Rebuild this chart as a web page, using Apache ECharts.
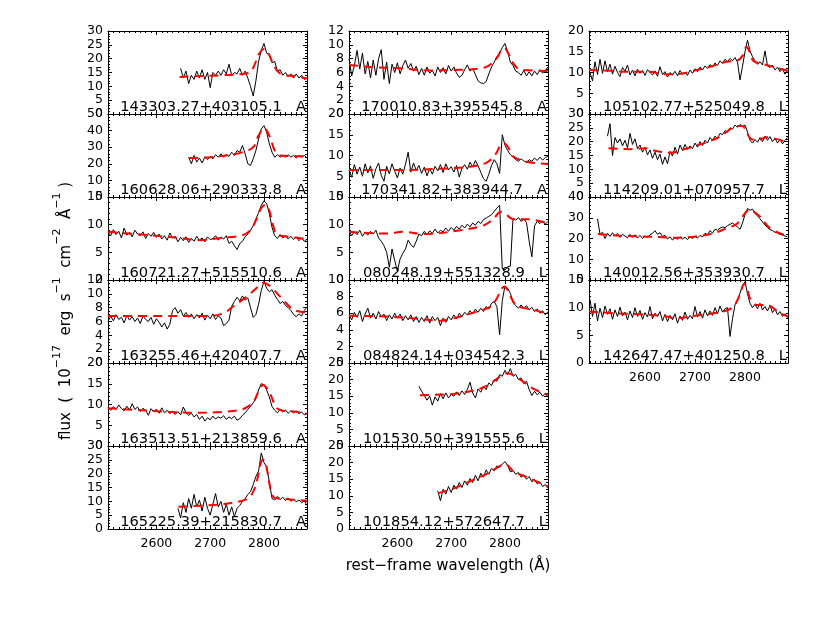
<!DOCTYPE html>
<html><head><meta charset="utf-8">
<script src="https://cdn.jsdelivr.net/npm/echarts@6/dist/echarts.min.js"></script>
<style>html,body{margin:0;padding:0;background:#fff}#c{width:830px;height:623px}</style>
</head><body><div id="c"></div>
<script>
// ---------------- data ----------------
const objectNames = ['143303.27+403105.1','160628.06+290333.8','160721.27+515510.6','163255.46+420407.7','163513.51+213859.6','165225.39+215830.7',
  '170010.83+395545.8','170341.82+383944.7','080248.19+551328.9','084824.14+034542.3','101530.50+391555.6','101854.12+572647.7',
  '105102.77+525049.8','114209.01+070957.7','140012.56+353930.7','142647.47+401250.8'];
const objectTypes = ['A','A','A','A','A','A','A','A','L','L','L','L','L','L','L','L'];
const yMaxes = [30,50,15,12,20,30, 12,20,15,10,25,25, 20,30,40,15];
const ySteps = [5,10,5,2,5,5, 2,5,5,2,5,5, 5,5,10,5];
const xTickLabels = [2600, 2700, 2800];
const waveRangeA = [2510, 2880];
const waveRangeB = [2488, 2886];
const specStarts = [2645,2660,2510,2510,2510,2640, 2510,2510,2510,2510,2640,2675, 2490,2525,2505,2490];
const specStep = 5;

const flux01 = [16.5,13,15.5,11,14,12.5,15.5,13,16,12.5,15,9.5,15,14,15.5,14,16,14.5,18,14,15,14.5,16.5,14,15.5,13,10,6.5,12,19,23,25.5,22,21.5,18.5,19,15.5,16,14,15,13.5,14.5,13,14.5,13,14,12.5,13];
const modelW01 = [2643,2680,2720,2760,2775,2783,2790,2800,2808,2815,2825,2835,2860,2880];
const modelF01 = [13.4,13.7,14.0,14.5,15.2,18,21.5,23.5,22,19,15.5,14.2,13.6,12.8];

const flux02 = [24,20,25,21,23.5,20.5,24,22.5,24.5,23,25.5,24,26,24,25.5,24.5,27,25,28,27,31,26,20,19,23,28,35,41,43,39,32,27,24,25.5,24,25,24,25.5,24,25,23.5,25,24,25,23.5];
const modelW02 = [2661,2700,2740,2765,2780,2790,2800,2810,2820,2830,2880];
const modelF02 = [23.5,24,25.5,27.5,30,37,41.5,37,28,25,24.5];

const flux03 = [8.7,8.0,9.1,8.2,8.8,7.6,9.4,8.1,8.6,7.8,9.0,8.3,8.0,8.7,7.5,8.4,7.9,8.6,7.7,
  8.3,7.4,8.0,7.2,8.5,7.6,7.9,6.9,7.7,7.1,7.8,6.8,7.5,7.0,7.9,7.2,7.6,6.9,7.8,7.3,
  7.5,8.0,7.2,7.8,7.4,8.0,6.6,7.0,
  6.2,5.5,6.6,7.0,7.8,8.3,9.0,9.8,11.0,12.2,13.5,14.3,13.8,12.0,9.5,8.0,7.5,8.2,7.6,8.0,7.4,7.9,7.3,7.8,7.1,7.6,7.0,7.4];
const modelW03 = [2510,2560,2610,2650,2680,2720,2760,2775,2785,2795,2803,2810,2818,2825,2850,2880];
const modelF03 = [8.7,8.3,7.9,7.5,7.2,7.6,8.1,9,10.8,13,13.6,12.5,9.5,8.2,7.8,7.35];

const flux04 = [6.0,6.8,6.1,7.0,6.3,6.6,5.8,6.9,6.2,6.7,6.0,6.5,5.7,6.8,6.3,6.0,6.6,5.6,6.4,5.9,5.2,5.8,4.9,5.6,7.6,8.0,7.2,7.7,6.8,7.3,6.6,7.1,6.4,7.0,6.5,7.2,6.2,6.9,6.4,7.1,6.3,6.8,
  6.5,5.4,5.7,6.2,8.2,8.9,9.5,9.0,9.7,9.1,9.4,8.0,6.6,7.0,8.5,10.5,11.8,10.8,10.3,10.6,9.8,9.2,8.6,8.9,8.3,8.0,7.6,7.0,6.7,7.1,6.8,7.6,8.1];
const modelW04 = [2510,2600,2700,2725,2743,2768,2790,2799,2808,2818,2836,2855,2880];
const modelF04 = [6.8,6.8,6.8,7.2,8.2,9.6,11.1,11.6,11.3,10.6,9.1,7.7,7.3];

const flux05 = [9.3,8.6,9.5,8.8,9.9,9.0,8.5,9.6,8.7,10.2,8.8,9.4,8.3,9.1,8.6,7.4,9.0,8.2,8.9,
  7.9,9.2,8.0,8.6,7.8,8.4,7.6,8.3,7.5,9.4,8.0,7.4,7.9,7.0,7.6,6.4,7.2,6.0,6.8,6.3,
  7.2,6.5,7.0,6.7,7.3,6.4,7.0,6.6,7.2,6.2,6.6,7.4,8.0,8.8,9.6,10.4,11.5,13.5,15.0,14.8,13.5,11.8,9.5,8.6,8.0,8.8,8.2,8.7,7.9,8.5,8.0,8.4,7.8,8.2,7.5,7.8];
const modelW05 = [2510,2560,2600,2670,2720,2756,2770,2781,2790,2799,2806,2812,2818,2824,2835,2855,2880];
const modelF05 = [9.1,8.7,8.4,8.0,8.2,8.7,9.5,10.7,13.2,14.7,13.8,12.5,10.5,9.1,8.5,8.3,7.8];

const flux06 = [7.5,4.0,9.5,6.0,11.0,7.5,12.5,8.0,10.5,6.5,11.5,7.5,5.0,9.0,12.8,8.0,10.0,6.0,9.0,5.0,
  8.0,4.5,7.5,8.5,10.0,11.0,12.5,13.5,16.0,19.0,21.0,27.5,24.0,22.5,17.0,11.0,10.5,11.8,10.6,11.5,
  10.3,11.2,10.0,10.8,9.8,10.5,9.5,10.2,8.5];
const modelW06 = [2641,2680,2720,2750,2770,2780,2787,2795,2800,2806,2812,2818,2830,2880];
const modelF06 = [8.0,8.4,8.9,9.8,11.0,13.5,17.5,24.5,25,21,14.5,11.5,11.0,10.2];

const flux07 = [8.0,5.5,7.0,9.2,6.5,8.8,5.8,7.6,5.2,7.8, 5.6,8.0,9.3,5.0,7.5,4.4,7.2,6.0,7.4,5.8,
  7.0,7.8,6.6,7.3,6.2,6.9,5.7,6.6,5.6,6.8, 5.9,6.3,5.5,6.8,6.0,6.7,5.8,7.0,6.2,6.8,
  5.9,5.3,5.6,6.4,7.1,6.2,6.6,5.7,4.8,4.5, 4.4,4.7,5.8,6.8,7.5,8.3,8.8,9.6,10.2,9.0,
  7.5,7.0,6.2,6.0,5.6,6.3,5.5,6.1,5.5,6.2, 5.7,6.4,5.9,6.3,6.8];
const modelW07 = [2510,2550,2605,2660,2717,2754,2770,2785,2793,2799,2806,2813,2822,2830,2880];
const modelF07 = [7.1,6.8,6.6,6.3,6.4,6.6,7.0,8.1,9.2,9.5,8.8,7.6,6.7,6.4,6.2];

const flux08 = [6.5,4.8,7.8,5.5,7.2,5.0,8.0,5.8,7.5,4.5, 6.8,8.2,5.2,3.8,7.4,5.6,8.0,6.2,4.6,7.0,
  5.5,7.9,10.8,6.0,8.2,6.4,7.6,5.7,7.2,5.1, 6.8,5.5,7.4,6.3,7.8,5.9,8.0,6.5,7.3,6.0,
  7.6,4.8,6.9,7.8,6.7,8.4,7.2,8.8,7.5,6.0, 4.4,3.8,5.5,7.6,9.0,8.0,5.7,15.0,12.5,11.2,
  10.2,9.6,9.0,8.6,9.2,8.7,8.3,9.0,8.6,9.4, 8.8,9.6,8.9,9.5,9.8];
const modelW08 = [2510,2600,2680,2735,2766,2782,2792,2799,2806,2815,2840,2880];
const modelF08 = [6.5,6.5,6.8,7.3,8.3,10.2,12.5,12.9,12.0,9.8,8.5,8.0];

const flux09 = [8.9,8.0,8.7,8.2,9.0,7.9,8.6,8.1,8.8,8.3, 9.0,7.6,7.0,6.2,5.0,2.3,5.6,3.5,1.6,3.8,
  4.8,5.6,7.2,6.4,5.9,7.0,8.3,8.0,8.8,8.2, 8.9,8.4,9.2,8.5,9.0,8.7,9.4,8.8,9.5,9.0,
  9.7,9.2,9.9,9.4,10.1,9.6,10.3,9.9,10.6,10.2, 10.9,11.2,11.5,11.8,12.4,13.0,13.5,2.0,1.8,2.4,
  2.5,11.2,10.8,11.3,10.6,11.0,10.4,7.0,4.2,9.8, 10.6,10.2,10.7,10.1,10.6];
const modelW09 = [2510,2580,2610,2650,2717,2761,2780,2791,2800,2816,2841,2880];
const modelF09 = [8.7,8.4,8.7,8.3,9.0,9.9,11.2,12.3,12.0,11.0,11.0,10.2];

const flux10 = [5.8,5.2,6.1,5.5,6.3,5.0,5.9,6.6,5.4,6.0, 5.3,6.2,5.6,5.9,5.1,5.8,5.3,6.0,5.4,5.9,
  5.1,5.7,5.2,5.8,5.0,5.6,4.9,5.5,5.0,5.7, 4.8,5.6,5.1,5.5,4.5,5.4,4.9,5.6,5.2,5.8,
  5.3,6.0,5.6,6.1,5.8,6.3,5.9,6.5,6.1,6.6, 6.2,6.8,6.5,7.2,7.4,6.8,3.4,7.5,9.3,9.0,
  8.4,7.3,6.9,6.6,7.0,6.6,6.9,6.4,6.7,6.2, 6.5,6.0,6.3,5.8,6.2];
const modelW10 = [2510,2580,2642,2680,2717,2748,2773,2785,2793,2799,2805,2812,2822,2853,2880];
const modelF10 = [5.7,5.6,5.3,5.1,5.6,6.2,6.8,7.8,8.9,9.2,8.8,7.8,6.9,6.4,5.9];

const flux11 = [18.0,16.5,15.2,13.8,15.0,12.3,14.8,13.5,15.8,14.2, 16.0,14.5,15.5,15.0,16.3,15.2,16.6,15.5,17.0,19.2,
  16.0,14.5,17.2,16.2,18.0,17.0,19.0,18.2,20.0,19.5, 21.5,21.0,22.8,21.5,23.3,21.0,21.6,20.0,20.5,18.8,
  19.5,17.0,15.2,16.5,15.4,16.2,15.0,15.8,14.8];
const modelW11 = [2642,2670,2704,2741,2766,2791,2804,2829,2854,2880];
const modelF11 = [15.3,15.4,15.7,16.7,18.1,20.9,21.9,19.9,17.1,15.4];

const flux12 = [11.5,8.5,12.0,10.5,12.8,11.0,13.2,12.0,14.0,12.5, 14.5,13.2,15.2,14.0,16.2,14.5,16.8,15.6,17.8,16.5,
  18.3,17.5,19.0,18.6,19.6,20.3,19.2,17.2,17.6,16.5, 17.0,15.6,16.3,15.0,15.8,14.2,14.9,13.6,14.2,12.8, 13.4,12.2];
const modelW12 = [2676,2704,2741,2766,2791,2800,2816,2841,2880];
const modelF12 = [10.8,12.2,14.8,16.6,19.0,19.6,17.3,15.6,12.8];

const flux13 = [10.0,8.0,12.6,9.5,13.2,9.8,12.8,10.2,12.0,9.6, 11.5,10.0,9.0,11.2,10.3,11.8,9.4,10.6,9.2,10.8,
  9.8,10.5,9.3,10.7,10.0,9.4,10.4,9.1,11.4,9.5, 10.2,8.9,10.0,9.4,10.3,9.2,10.5,9.6,10.1,9.3,
  10.6,9.8,10.9,10.2,11.3,10.6,11.6,11.0,11.9,11.3, 12.3,11.7,12.8,12.2,13.2,12.6,13.4,12.8,13.6,12.5,
  8.2,11.5,15.0,17.8,15.2,13.8,12.8,12.0,12.6,11.8, 15.2,11.6,11.2,11.8,10.6,11.3,10.2,10.9,9.6,10.5];
const modelW13 = [2488,2530,2563,2610,2637,2663,2697,2730,2763,2785,2795,2803,2810,2817,2843,2886];
const modelF13 = [10.6,10.4,10.2,10.2,9.6,9.6,10.4,11.4,12.6,12.9,14.0,16.2,14.8,12.8,11.8,10.4];

const flux14 = [22.0,26.5,15.0,21.5,19.5,21.0,18.5,20.5,17.8,23.0, 19.0,21.0,17.5,18.8,16.2,18.0,15.2,17.0,14.0,16.2,
  13.5,15.5,11.8,14.5,12.0,16.5,14.8,18.0,15.5,18.8, 16.8,19.0,17.2,18.5,17.5,19.5,18.0,20.0,18.6,20.5,
  19.5,21.5,20.5,22.0,21.2,23.0,22.5,24.0,23.5,25.0, 24.5,26.0,25.2,26.2,25.5,26.0,23.5,20.5,19.5,20.8,
  19.8,21.5,20.0,22.0,20.5,21.8,20.0,21.2,19.5,20.8, 19.2,20.5,21.5];
const modelW14 = [2527,2545,2572,2600,2625,2650,2683,2717,2750,2783,2795,2803,2812,2825,2843,2886];
const modelF14 = [17.6,17.4,17.3,17.6,16.5,16.0,17.5,19.4,21.8,25.6,25.7,23.4,21.0,20.6,21.6,19.6];

const flux15 = [29.5,22.0,23.0,20.0,22.5,21.0,22.8,21.2,22.5,20.5, 22.0,21.2,20.3,22.0,20.6,21.8,20.2,21.5,20.0,21.2,
  20.5,21.8,22.5,23.8,22.0,22.8,21.0,21.5,19.8,20.8, 19.2,20.5,19.6,20.8,19.8,20.6,19.5,20.9,20.0,21.0,
  20.2,21.5,20.8,22.5,21.8,23.8,22.6,24.5,24.0,25.0, 25.6,25.2,26.2,26.8,27.5,26.5,25.5,24.4,27.5,31.5,
  34.5,33.6,34.2,32.0,31.0,29.5,28.0,26.5,25.2,24.3, 23.8,23.0,22.6,22.0,21.7,21.2,20.8];
const modelW15 = [2506,2544,2610,2650,2697,2737,2763,2782,2792,2802,2810,2820,2830,2850,2870,2886];
const modelF15 = [22.2,21.4,20.9,20.4,20.9,22.5,24.9,26.8,29.5,32.8,34.0,32.5,30.5,24.9,22.5,21.2];

const flux16 = [11.5,8.4,10.8,7.6,9.9,8.2,10.3,8.8,9.8,7.9, 9.6,8.4,10.1,8.5,9.2,7.8,9.4,8.2,10.0,8.4,
  9.5,7.9,9.1,8.3,10.2,8.0,9.0,8.4,9.3,7.6, 8.8,7.5,8.6,7.8,8.9,7.2,8.5,7.7,9.2,7.9,
  8.6,8.0,10.2,8.3,9.3,8.1,9.6,8.5,9.4,8.6, 10.0,8.9,10.3,9.2,9.8,10.0,4.8,8.0,10.5,11.3,
  12.6,14.0,14.7,12.5,10.8,10.0,10.6,9.8,10.8,9.6, 10.2,9.4,10.4,9.1,9.8,8.7,9.3,8.4,8.9,8.2];
const modelW16 = [2488,2537,2590,2637,2663,2697,2737,2763,2777,2788,2799,2805,2810,2823,2843,2870,2886];
const modelF16 = [9.3,9.0,8.8,8.5,8.1,8.5,9.0,9.5,10.2,12.0,14.3,13.2,11.7,10.5,10.5,9.0,8.4];

const fluxes = [flux01,flux02,flux03,flux04,flux05,flux06,flux07,flux08,flux09,flux10,flux11,flux12,flux13,flux14,flux15,flux16];
const modelWaves = [modelW01,modelW02,modelW03,modelW04,modelW05,modelW06,modelW07,modelW08,modelW09,modelW10,modelW11,modelW12,modelW13,modelW14,modelW15,modelW16];
const modelFluxes = [modelF01,modelF02,modelF03,modelF04,modelF05,modelF06,modelF07,modelF08,modelF09,modelF10,modelF11,modelF12,modelF13,modelF14,modelF15,modelF16];

// ---------------- layout ----------------
const FONT = 'DejaVu Sans';
const colLeft = [108, 349, 589];
const PW = 199, PH = 83, TOP0 = 31;

const grids = [], xAxes = [], yAxes = [], series = [], graphics = [];

function minorVals(r) {
  const out = [];
  for (let v = Math.ceil(r[0] / 10) * 10; v <= r[1]; v += 10) out.push(v);
  return out;
}
const plain = v => String(v);

for (let p = 0; p < 16; p++) {
  const col = p < 6 ? 0 : (p < 12 ? 1 : 2);
  const row = p < 6 ? p : (p < 12 ? p - 6 : p - 12);
  const isBottom = (col < 2 && row === 5) || (col === 2 && row === 3);
  const xr = col < 2 ? waveRangeA : waveRangeB;
  const left = colLeft[col], top = TOP0 + row * PH;
  grids.push({left: left, top: top, width: PW, height: PH, containLabel: false, outerBoundsMode: 'none'});

  const mk = (pos, major, labels) => ({
    type: 'value', gridIndex: p, position: pos, min: xr[0], max: xr[1],
    axisLine: {show: major, onZero: false, lineStyle: {color: '#000', width: 1}},
    axisTick: {show: true, inside: true, length: major ? 4 : 2,
      customValues: major ? xTickLabels : minorVals(xr), lineStyle: {color: '#000', width: 1}},
    axisLabel: {show: labels, customValues: xTickLabels, color: '#000', fontSize: 12.5,
      fontFamily: FONT, margin: 8, formatter: plain},
    splitLine: {show: false}, minorTick: {show: false}
  });
  xAxes.push(mk('bottom', true, isBottom));
  xAxes.push(mk('bottom', false, false));
  xAxes.push(mk('top', true, false));
  xAxes.push(mk('top', false, false));

  const minorSplit = ySteps[p] === 2 ? 4 : 5;
  const mky = (pos, labels) => ({
    type: 'value', gridIndex: p, position: pos, min: 0, max: yMaxes[p], interval: ySteps[p],
    axisLine: {show: true, onZero: false, lineStyle: {color: '#000', width: 1}},
    axisTick: {show: true, inside: true, length: 4, lineStyle: {color: '#000', width: 1}},
    minorTick: {show: true, splitNumber: minorSplit, length: 2, lineStyle: {color: '#000', width: 1}},
    axisLabel: {show: labels, color: '#000', fontSize: 12.5, fontFamily: FONT, margin: 5,
      showMinLabel: true, showMaxLabel: true, formatter: plain},
    splitLine: {show: false}, minorSplitLine: {show: false}
  });
  yAxes.push(mky('left', true));
  yAxes.push(mky('right', false));

  const f = fluxes[p];
  series.push({
    type: 'line', xAxisIndex: 4 * p, yAxisIndex: 2 * p, showSymbol: false, symbol: 'none',
    data: f.map((v, i) => [specStarts[p] + specStep * i, v]),
    lineStyle: {color: '#000', width: 1}, itemStyle: {color: '#000'}, z: 2, clip: true, animation: false
  });
  series.push({
    type: 'line', xAxisIndex: 4 * p, yAxisIndex: 2 * p, showSymbol: false, symbol: 'none', smooth: 0.35,
    data: modelWaves[p].map((w, i) => [w, modelFluxes[p][i]]),
    lineStyle: {color: '#ff0000', width: 2, type: [9, 6]}, itemStyle: {color: '#ff0000'}, z: 3, clip: true, animation: false
  });

  graphics.push({
    type: 'text', x: left + PW - 1, y: top + PH + 1, silent: true,
    style: {text: objectNames[p] + '   ' + objectTypes[p], fill: '#000', font: '14.7px "DejaVu Sans"',
      align: 'right', verticalAlign: 'bottom', textAlign: 'right', textVerticalAlign: 'bottom'}
  });
}

graphics.push({
  type: 'text', x: 448, y: 566, silent: true,
  style: {text: 'rest\u2212frame wavelength (\u00c5)', fill: '#000', font: '15px "DejaVu Sans"',
    align: 'center', verticalAlign: 'middle', textAlign: 'center', textVerticalAlign: 'middle'}
});
graphics.push({
  type: 'text', x: 63, y: 311, rotation: Math.PI / 2, silent: true,
  style: {
    text: '{n|flux  (  10}{s|\u221217}{n|  erg  s}{s|\u22121}{n|  cm}{s|\u22122}{n|  \u00c5}{s|\u22121}{n| )}',
    align: 'center', verticalAlign: 'middle', textAlign: 'center', textVerticalAlign: 'middle',
    fill: '#000',
    rich: {
      n: {fontSize: 15, fontFamily: FONT, fill: '#000', color: '#000', lineHeight: 22, verticalAlign: 'bottom'},
      s: {fontSize: 11, fontFamily: FONT, fill: '#000', color: '#000', lineHeight: 12, verticalAlign: 'top'}
    }
  }
});

const chart = echarts.init(document.getElementById('c'), null, {renderer: 'canvas'});
chart.setOption({
  backgroundColor: '#fff',
  animation: false,
  grid: grids, xAxis: xAxes, yAxis: yAxes, series: series,
  graphic: {elements: graphics}
});
</script></body></html>
